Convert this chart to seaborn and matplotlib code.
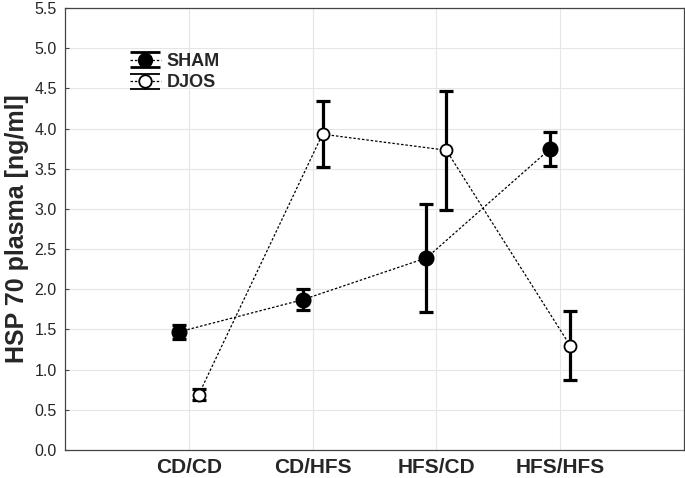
import numpy as np
import pandas as pd
import matplotlib
matplotlib.use("Agg")
import matplotlib.pyplot as plt
from matplotlib.legend_handler import HandlerErrorbar
import seaborn as sns

categories = ["CD/CD", "CD/HFS", "HFS/CD", "HFS/HFS"]
sham_mean = [1.47, 1.87, 2.39, 3.75]
sham_err = [0.09, 0.13, 0.67, 0.21]
djos_mean = [0.69, 3.93, 3.73, 1.30]
djos_err = [0.07, 0.41, 0.74, 0.43]
yticks = [0.0, 0.5, 1.0, 1.5, 2.0, 2.5, 3.0, 3.5, 4.0, 4.5, 5.0, 5.5]

sns.set_theme(style="whitegrid")
plt.rcParams['font.family'] = ['Liberation Sans', 'DejaVu Sans']

fig = plt.figure(figsize=(6.85, 4.78), dpi=100)
ax = fig.add_axes([65/685, 1-450/478, 619/685, 442/478])

base = np.arange(1, len(categories) + 1)
off = 0.08
df = pd.DataFrame({
    "x": np.concatenate([base - off, base + off]),
    "y": sham_mean + djos_mean,
    "group": ["SHAM"] * 4 + ["DJOS"] * 4,
})

for g, err, face in [("SHAM", sham_err, "black"), ("DJOS", djos_err, "white")]:
    sub = df[df.group == g]
    sns.lineplot(data=sub, x="x", y="y", ax=ax, color="black", lw=0.9,
                 linestyle=(0, (2.0, 1.5)), legend=False, zorder=2)
    ax.errorbar(sub.x, sub.y, yerr=err, fmt="none", ecolor="black",
                elinewidth=2.3, capsize=4.8, capthick=2.3, zorder=3)
    sns.scatterplot(data=sub, x="x", y="y", ax=ax, color=face, edgecolor="black",
                    linewidth=1.3, s=105 if g == "SHAM" else 75, zorder=4, legend=False)

# legend proxy handles (drawn outside the visible range)
h1 = ax.errorbar([-5], [-5], yerr=[0.1], fmt="o", color="black", mfc="black", mec="black",
                 ms=10, elinewidth=2, capsize=11, capthick=2, ls=(0, (2, 1.5)), lw=0.9)
h2 = ax.errorbar([-5], [-5], yerr=[0.1], fmt="o", color="black", mfc="white", mec="black",
                 ms=9, mew=1.3, elinewidth=2, capsize=11, capthick=2, ls=(0, (2, 1.5)), lw=0.9)
leg = ax.legend([h1, h2], ["SHAM", "DJOS"], loc="upper left", bbox_to_anchor=(0.078, 0.935),
                frameon=False, handlelength=1.75, handletextpad=0.3, labelspacing=0.25,
                prop={"weight": "bold", "size": 13},
                handler_map={type(h1): HandlerErrorbar(yerr_size=0.42)})

ax.set_xlim(0, 5)
ax.set_ylim(0, 5.5)
ax.set_xticks(base)
ax.set_xticklabels(categories, fontsize=15, fontweight="bold")
ax.set_yticks(yticks)
ax.set_yticklabels([f"{v:.1f}" for v in yticks], fontsize=11.5)
ax.set_xlabel("")
ax.set_ylabel("HSP 70 plasma [ng/ml]", fontsize=18, fontweight="bold", labelpad=4)
ax.grid(True, color="#e6e6e6", lw=0.8)
ax.set_axisbelow(True)
for s in ax.spines.values():
    s.set_color("#444444")
    s.set_linewidth(0.9)
ax.tick_params(axis="y", direction="in", length=3, width=0.8, color="#444444", pad=6, left=True)
ax.tick_params(axis="x", length=0, pad=6)

fig.savefig("out.png", dpi=100)
